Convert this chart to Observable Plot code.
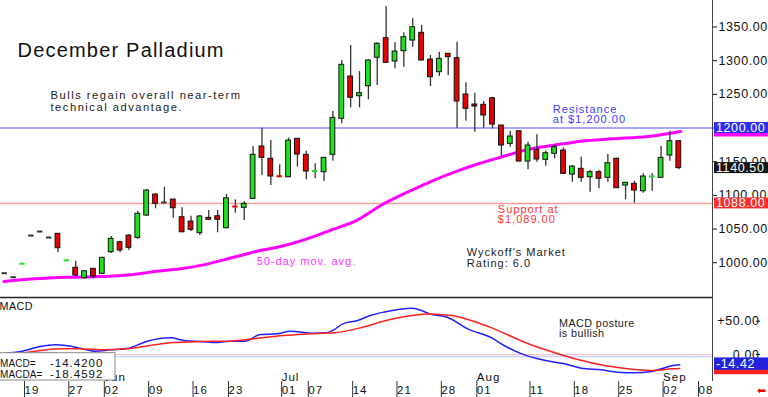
<!DOCTYPE html>
<html><head><meta charset="utf-8">
<script src="https://cdn.jsdelivr.net/npm/d3@7"></script>
<script src="https://cdn.jsdelivr.net/npm/@observablehq/plot@0.6"></script>
<style>
html,body{margin:0;padding:0;background:#fff;}
#chart{position:relative;width:768px;height:397px;overflow:hidden;background:#fff;}
#chart svg{position:absolute;left:0;}
#chart text{letter-spacing:1px;}
#chart g[font-size="20"] text{letter-spacing:1.2px;}
#chart g[font-size="11.2"] text{letter-spacing:1.5px;}
#chart g[font-size="10.8"] text{letter-spacing:0.4px;}
#chart g[aria-label="y-axis tick label"] text{letter-spacing:0.6px;}
#chart .vbox text{letter-spacing:0.6px;}
#chart .mlabel{letter-spacing:0.1px;}
</style></head>
<body><div id="chart"></div>
<script>
// trading-day index (0 = May 19, 2025)
const dayIdx = [-2,-1,0,1,2,3,4,5,6,7,8,9,10,11,12,13,14,15,16,17,18,19,20,21,22,23,24,25,26,27,28,29,30,31,32,33,34,35,36,37,38,39,40,41,42,43,44,45,46,47,48,49,50,51,52,53,54,55,56,57,58,59,60,61,62,63,64,65,66,67,68,69,70,71,72,73,74];
const opens = [984.4,978.4,998.0,1040.3,1046.3,1037.4,1042.9,1003.0,992.4,976.9,990.9,983.5,1015.5,1030.4,1040.3,1036.9,1070.0,1101.2,1089.4,1093.8,1067.5,1061.1,1043.8,1066.6,1069.0,1051.2,1083.9,1081.5,1094.8,1172.5,1154.3,1129.0,1126.9,1184.0,1160.2,1135.5,1134.4,1160.2,1213.7,1276.5,1247.2,1262.1,1304.3,1333.4,1298.8,1314.1,1330.0,1341.4,1301.7,1282.9,1310.2,1303.7,1249.8,1234.9,1234.5,1244.3,1203.7,1176.5,1195.2,1150.2,1167.6,1152.8,1161.7,1166.6,1130.9,1139.4,1126.9,1134.4,1126.0,1154.3,1114.6,1117.1,1106.1,1127.6,1126.0,1159.2,1180.4];
const highs = [984.4,978.4,998.5,1040.3,1046.3,1037.4,1043.2,1003.5,1002.2,987.5,991.2,1008.0,1038.9,1031.9,1041.4,1076.4,1108.7,1102.3,1112.1,1094.0,1081.5,1069.0,1070.0,1077.5,1077.5,1101.2,1093.4,1090.8,1172.5,1199.7,1181.4,1145.3,1184.9,1184.5,1165.5,1146.8,1156.0,1224.5,1300.3,1322.5,1283.9,1301.3,1326.5,1380.5,1326.5,1341.4,1362.2,1352.2,1307.7,1312.6,1310.5,1327.4,1267.1,1251.7,1239.4,1245.7,1204.0,1195.2,1195.5,1178.9,1189.9,1165.5,1174.0,1170.6,1144.3,1156.6,1136.9,1136.9,1160.6,1155.0,1119.0,1121.0,1132.0,1132.0,1172.5,1195.2,1181.4];
const lows = [984.4,978.4,998.0,1040.3,1046.3,1037.4,1014.6,1003.0,979.4,976.0,976.5,983.0,1013.6,1014.6,1018.1,1034.4,1069.0,1080.0,1089.4,1066.0,1044.4,1046.3,1040.3,1062.6,1044.4,1050.3,1073.5,1062.6,1094.8,1129.5,1114.6,1126.0,1126.9,1141.8,1123.1,1124.6,1120.5,1150.7,1206.2,1230.0,1230.0,1241.9,1263.1,1296.0,1287.9,1290.3,1320.0,1300.0,1261.6,1276.5,1278.0,1199.7,1210.1,1193.8,1199.7,1198.8,1157.7,1171.5,1150.0,1137.9,1149.2,1143.3,1154.3,1131.5,1119.5,1119.5,1104.6,1109.7,1119.5,1110.0,1093.4,1088.3,1103.2,1106.1,1126.0,1150.7,1137.9];
const closes = [984.4,978.4,998.5,1040.3,1046.3,1037.4,1021.5,1003.5,980.9,987.3,979.4,1007.2,1035.4,1018.1,1022.1,1072.6,1107.2,1087.4,1089.4,1080.9,1045.2,1048.8,1068.6,1063.7,1063.7,1095.7,1083.4,1087.4,1160.2,1155.7,1128.0,1128.4,1181.4,1160.6,1135.4,1136.0,1155.7,1215.1,1293.9,1244.9,1251.7,1300.3,1325.1,1296.8,1313.6,1334.9,1349.7,1300.3,1275.4,1302.8,1305.2,1239.4,1228.5,1231.9,1218.6,1205.2,1174.0,1187.4,1150.2,1174.0,1153.2,1162.6,1171.5,1132.0,1142.8,1126.0,1134.4,1124.6,1147.7,1110.6,1118.6,1107.2,1128.0,1128.0,1155.7,1180.4,1140.5];

// 50-day moving average
const maIdx = [-2.1,1.3,5.1,8.8,12.5,14.4,17.8,20.1,23.8,24.6,26.8,29.1,32.1,34.7,37.8,40.4,43.4,46.3,49.0,51.6,53.9,57.3,61.0,62.9,66.6,70.5,73.1,74.2];
const maVal = [972,976,978.4,979.4,982.4,986,991,996,1008,1010.6,1018,1024,1035.4,1048,1063.6,1085,1104.7,1122,1136,1147.7,1156.6,1169,1176.5,1180.4,1184,1187.4,1192.3,1194.8];

// MACD (blue) and MACDA signal (red)
const macdIdx = [-2.1,-0.2,2.0,3.7,5.1,6.5,8.2,9.9,11.8,14.1,16.7,18.2,20.1,22.0,23.4,25.1,26.8,28.7,30.2,32.8,34.2,35.1,36.1,37.8,39.2,40.7,44.0,45.0,45.9,47.9,50.2,52.9,54.3,56.3,58.1,59.6,61.1,63.0,65.3,67.1,69.0,70.9,72.0,73.2,74.1];
const macdVal = [2,4.5,12,14.6,13,9.5,5,7,9,20,25,21,19.5,18,20,20,30,31,35,32,32.5,37,46,51,58.5,63.5,69.5,66,61,56,38.6,25,13.5,1,-6.5,-10.5,-14,-20.5,-23,-26.5,-27.5,-25.5,-21.5,-17,-15.5];
const sigIdx = [-2.1,-0.2,2.0,4.3,6.5,8.8,11.8,14.4,17.0,20.1,23.1,26.0,29.4,33.9,35.1,38.1,40.7,43.9,45.7,48.4,50.6,53.2,56.6,59.6,62.6,65.6,68.2,70.9,73.2,74.1];
const sigVal = [1,2,6,8.5,8.5,7,8.5,13.5,18,19.5,20,23.5,28.5,32,32.5,40,50,58.5,61,58.5,51,38.5,18.5,4.5,-7.5,-16.5,-21.5,-24,-21.5,-21];

const resistance = 1200;
const support = 1088;
const lastClose = 1140.5;
const macdLast = -14.42;
const macdaLast = -18.4592;

const priceTicks = [1000,1050,1100,1150,1200,1250,1300,1350];
const macdTicks = [0,50];
const tickIdx = [0,5,9,14,19,23,29,32,37,42,47,51,57,62,67,72,76];
const tickLbl = ["19","27","02","09","16","23","01","07","14","21","28","01","11","18","25","02","08"];
const monthIdx = [9,29,51,72];
const monthLbl = ["Jun","Jul","Aug","Sep"];

// ---- build ----
const xDomain = [-2.48, 77.8];
const priceDomain = [948.3, 1389.4];
const macdDomain = [-40.5, 85.6];
const FONT = "'Liberation Sans', Arial, Helvetica, sans-serif";

const candles = dayIdx.map((i, k) => ({i, open: opens[k], high: highs[k], low: lows[k], close: closes[k]}));
const colorOf = d => d.close > d.open ? "#1fe01f" : d.close < d.open ? "#e80000" : "#333333";
const bodies = candles.filter(d => Math.abs(d.close - d.open) >= 1);
const dashes = candles.filter(d => Math.abs(d.close - d.open) < 1);
const wicks = candles.filter(d => d.high - d.low > 1);
const ma = maIdx.map((i, k) => ({i, v: maVal[k]}));
const macd = macdIdx.map((i, k) => ({i, v: macdVal[k]}));
const sig = sigIdx.map((i, k) => ({i, v: sigVal[k]}));
const months = monthIdx.map((i, k) => ({i, t: monthLbl[k]}));

function valueBoxes(items, h) {
  return (index, scales, values, dim) => {
    const g = d3.create("svg:g").attr("class", "vbox").attr("text-anchor", "start");
    const x0 = dim.width - dim.marginRight + 2;
    for (const it of items) {
      const y = scales.y(it.value);
      g.append("rect").attr("x", x0).attr("y", y - h / 2).attr("width", dim.width - x0).attr("height", h).attr("fill", it.bg);
      if (it.text) g.append("text").attr("x", x0 + 2).attr("y", y).attr("dy", "0.36em").attr("text-anchor", "start")
        .attr("fill", "#fff").attr("font-size", 12.5).attr("font-family", FONT).text(it.text);
    }
    return g.node();
  };
}

const style = {fontFamily: FONT, background: "transparent", overflow: "visible", color: "#111"};

const main = Plot.plot({
  width: 768, height: 297, marginTop: 0, marginBottom: 0, marginLeft: 0, marginRight: 56,
  x: {domain: xDomain, axis: null},
  y: {domain: priceDomain, axis: null},
  style,
  marks: [
    Plot.ruleY([resistance], {stroke: "#a6a6ff", strokeWidth: 2}),
    Plot.ruleY([support], {stroke: "#ff9c9c", strokeWidth: 1.5}),
    Plot.line(ma, {x: "i", y: "v", stroke: "#ff00ff", strokeWidth: 3, curve: "monotone-x"}),
    Plot.ruleX(wicks, {x: "i", y1: "low", y2: "high", stroke: "#333", strokeWidth: 1.3}),
    Plot.rect(bodies, {x1: d => d.i - 0.27, x2: d => d.i + 0.27, y1: "open", y2: "close", fill: colorOf, stroke: "#111", strokeWidth: 1}),
    Plot.ruleY(dashes, {x1: d => d.i - 0.3, x2: d => d.i + 0.3, y: "close", stroke: colorOf, strokeWidth: 2}),
    Plot.text(["December Palladium"], {frameAnchor: "top-left", dx: 17, dy: 56.7, textAnchor: "start", lineAnchor: "bottom", fontSize: 20, fill: "#111"}),
    Plot.text(["Bulls regain overall near-term\ntechnical advantage."], {frameAnchor: "top-left", dx: 50, dy: 110, textAnchor: "start", lineAnchor: "bottom", fontSize: 11.2, lineHeight: 1.0, fill: "#222"}),
    Plot.text(["Resistance\nat $1,200.00"], {x: 59.8, y: 1207.1, textAnchor: "start", lineAnchor: "bottom", fontSize: 11, lineHeight: 0.92, fill: "#3c3cff"}),
    Plot.text(["Support at\n$1,089.00"], {x: 53.6, y: 1058.6, textAnchor: "start", lineAnchor: "bottom", fontSize: 11, lineHeight: 0.92, fill: "#ff3434"}),
    Plot.text(["Wyckoff's Market\nRating: 6.0"], {x: 50.1, y: 994.3, textAnchor: "start", lineAnchor: "bottom", fontSize: 11, lineHeight: 0.92, fill: "#222"}),
    Plot.text(["50-day mov. avg."], {x: 26.4, y: 997.3, textAnchor: "start", lineAnchor: "bottom", fontSize: 11, fill: "#ff33ff"}),
    Plot.ruleX([xDomain[1]], {stroke: "#444", strokeWidth: 1}),
    Plot.axisY(priceTicks, {anchor: "right", label: null, tickSize: 4, tickPadding: 2, tickFormat: d => d.toFixed(2), fontSize: 12.5, fill: "#111"}),
    valueBoxes([
      {value: maVal[maVal.length - 1], bg: "#ff00ff"},
      {value: resistance, bg: "#2f2ff4", text: resistance.toFixed(2)},
      {value: lastClose, bg: "#151515", text: lastClose.toFixed(2)},
      {value: support, bg: "#ff2c2c", text: support.toFixed(2)}
    ], 11)
  ]
});

const sub = Plot.plot({
  width: 768, height: 100, marginTop: 0, marginBottom: 16, marginLeft: 0, marginRight: 56,
  x: {domain: xDomain, axis: null},
  y: {domain: macdDomain, axis: null},
  style,
  marks: [
    Plot.ruleY([0], {stroke: "#ffbdbd", strokeWidth: 1}),
    Plot.ruleY([0], {stroke: "#cfcfff", strokeWidth: 1.5, dy: 2}),
    Plot.line(macd, {x: "i", y: "v", stroke: "#2020ff", strokeWidth: 1.5, curve: "monotone-x"}),
    Plot.line(sig, {x: "i", y: "v", stroke: "#ff2020", strokeWidth: 1.5, curve: "monotone-x"}),
    Plot.text(["MACD"], {frameAnchor: "top-left", dx: -1, dy: 12.3, textAnchor: "start", lineAnchor: "bottom", fontSize: 10.8, fill: "#111"}),
    Plot.text(["MACD posture\nis bullish"], {x: 60.5, y: 27, textAnchor: "start", lineAnchor: "bottom", fontSize: 10.8, lineHeight: 0.93, fill: "#222"}),
    Plot.axisX(tickIdx, {anchor: "bottom", label: null, tickSize: 16, tickPadding: -12, tickFormat: d => tickLbl[tickIdx.indexOf(d)], textAnchor: "start", lineAnchor: "top", dx: 2, fontSize: 11.5, stroke: "#333", fill: "#111"}),
    Plot.text(months, {x: "i", text: "t", frameAnchor: "bottom", textAnchor: "start", lineAnchor: "bottom", dx: 2, dy: -1, fontSize: 11.5, fill: "#111"}),
    (index, scales, values, dim) => {
      const g = d3.create("svg:g").attr("font-family", FONT).attr("font-size", 11).attr("fill", "#111").attr("text-anchor", "start");
      const yb = dim.height - dim.marginBottom;
      g.append("rect").attr("x", -1).attr("y", yb - 28.3).attr("width", 116).attr("height", 27.3)
        .attr("fill", "#fff").attr("stroke", "#888").attr("stroke-width", 1);
      g.append("text").attr("class", "mlabel").attr("x", 0).attr("y", yb - 13.7).attr("font-size", 10).text("MACD=");
      g.append("text").attr("x", 50).attr("y", yb - 13.7).attr("font-size", 11.5).text(macdLast.toFixed(4));
      g.append("text").attr("class", "mlabel").attr("x", 0).attr("y", yb - 3.3).attr("font-size", 10).text("MACDA=");
      g.append("text").attr("x", 50).attr("y", yb - 3.3).attr("font-size", 11.5).text(macdaLast.toFixed(4));
      g.append("text").attr("x", dim.width - 6).attr("y", dim.height - 7.3).attr("text-anchor", "middle")
        .attr("dy", "0.36em").attr("fill", "#ee0000").attr("font-family", "DejaVu Sans").attr("font-size", 11).text("\u2B05");
      return g.node();
    },
    Plot.ruleY([macdDomain[1]], {stroke: "#222", strokeWidth: 1.5}),
    Plot.ruleX([xDomain[1]], {stroke: "#444", strokeWidth: 1}),
    Plot.axisY(macdTicks, {anchor: "right", label: null, tickSize: 4, tickPadding: 0, textAnchor: "end", dx: 43, tickFormat: d => (d > 0 ? "+" : "") + d.toFixed(2), fontSize: 12.5, fill: "#111"}),
    valueBoxes([
      {value: sigVal[sigVal.length - 1], bg: "#ff2020"},
      {value: macdLast, bg: "#2424e0", text: macdLast.toFixed(2)}
    ], 12.4)
  ]
});

const chart = document.getElementById("chart");
main.style.top = "0px";
sub.style.top = "297px";
chart.appendChild(main);
chart.appendChild(sub);
</script>
</body></html>
